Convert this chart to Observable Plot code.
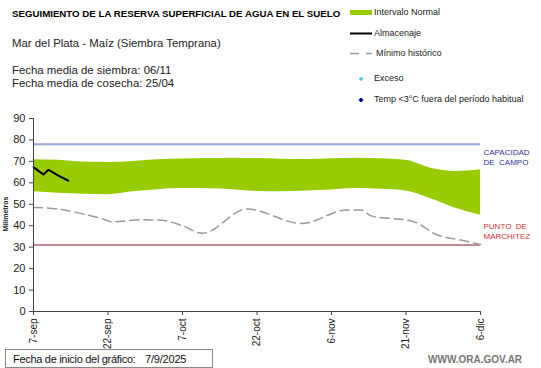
<!DOCTYPE html>
<html>
<head>
<meta charset="utf-8">
<script src="https://cdn.jsdelivr.net/npm/d3@7"></script>
<script src="https://cdn.jsdelivr.net/npm/@observablehq/plot@0.6"></script>
<style>
  html, body { margin: 0; padding: 0; background: #fff; }
  #wrap { position: relative; width: 541px; height: 368px; overflow: hidden; font-family: "Liberation Sans", Arial, sans-serif; }
  .abs { position: absolute; white-space: nowrap; line-height: 1; }
</style>
</head>
<body>
<div id="wrap"></div>
<script>
// ---- Data ----
const bandDates = ["2025-09-07","2025-09-12","2025-09-17","2025-09-22","2025-09-27","2025-10-02","2025-10-07","2025-10-12","2025-10-17","2025-10-22","2025-10-27","2025-11-01","2025-11-06","2025-11-11","2025-11-16","2025-11-21","2025-11-26","2025-12-01","2025-12-06"];
const bandHigh = [70.8, 70.5, 69.7, 69.5, 70.0, 70.8, 71.1, 71.3, 71.5, 71.3, 71.0, 70.9, 71.2, 71.5, 71.2, 70.5, 66.8, 65.3, 66.1];
const bandLow  = [55.8, 55.2, 54.7, 54.5, 55.8, 56.8, 57.3, 57.2, 56.8, 56.0, 55.8, 56.2, 56.7, 57.4, 57.0, 56.2, 52.6, 48.2, 44.9];

const almDates = ["2025-09-07","2025-09-08","2025-09-09","2025-09-10","2025-09-11","2025-09-12","2025-09-13","2025-09-14"];
const almValues = [67.3, 65.6, 63.9, 66.1, 64.8, 63.4, 62.2, 61.0];

const minDates = ["2025-09-07","2025-09-09","2025-09-21","2025-09-23","2025-09-29","2025-10-03","2025-10-07","2025-10-11","2025-10-20","2025-10-31","2025-11-09","2025-11-12","2025-11-14","2025-11-22","2025-11-23","2025-11-27","2025-12-02","2025-12-06"];
const minValues = [48.5, 48.4, 43.1, 41.8, 42.8, 42.5, 40.0, 36.5, 47.8, 41.0, 47.3, 47.3, 44.6, 42.2, 41.5, 36.0, 33.3, 31.3];

const capacidadCampo = 78;
const puntoMarchitez = 31;

const xTickDates = ["2025-09-07","2025-09-22","2025-10-07","2025-10-22","2025-11-06","2025-11-21","2025-12-06"];
const xTickLabels = ["7-sep","22-sep","7-oct","22-oct","6-nov","21-nov","6-dic"];
const yTicks = [0,10,20,30,40,50,60,70,80,90];

// ---- Build tables ----
const P = d3.utcParse("%Y-%m-%d");
const band = bandDates.map((d,i)=>({date:P(d), hi:bandHigh[i], lo:bandLow[i]}));
const alm = almDates.map((d,i)=>({date:P(d), v:almValues[i]}));
const minH = minDates.map((d,i)=>({date:P(d), v:minValues[i]}));
const ticks = xTickDates.map(P);
const labelOf = new Map(ticks.map((t,i)=>[+t, xTickLabels[i]]));
const x0 = P(xTickDates[0]), x1 = P(xTickDates[xTickDates.length-1]);

const font = "Liberation Sans, Arial, sans-serif";

const chart = Plot.plot({
  width: 541,
  height: 368,
  marginTop: 118,
  marginBottom: 57,
  marginLeft: 33,
  marginRight: 61,
  style: {fontFamily: font, background: "transparent", overflow: "visible"},
  x: {type: "utc", domain: [x0, x1]},
  y: {domain: [0, 90]},
  marks: [
    Plot.areaY(band, {x: "date", y1: "lo", y2: "hi", fill: "#99cc00", curve: "monotone-x"}),
    Plot.ruleY([capacidadCampo], {x1: x0, x2: x1, stroke: "#9aa6d6", strokeWidth: 2}),
    Plot.ruleY([puntoMarchitez], {x1: x0, x2: x1, stroke: "#c48a93", strokeWidth: 2}),
    Plot.lineY(minH, {x: "date", y: "v", stroke: "#999999", strokeWidth: 1.5, strokeDasharray: "9,5", curve: "monotone-x"}),
    Plot.lineY(alm, {x: "date", y: "v", stroke: "#000", strokeWidth: 2}),
    Plot.text([{t: "CAPACIDAD\nDE  CAMPO"}], {x: x1, y: capacidadCampo, text: "t", textAnchor: "start", lineAnchor: "top", dx: 3, dy: 3, fontSize: 8, fill: "#333399", lineHeight: 1.3}),
    Plot.text([{t: "PUNTO  DE\nMARCHITEZ"}], {x: x1, y: puntoMarchitez, text: "t", textAnchor: "start", lineAnchor: "bottom", dx: 3, dy: -6, fontSize: 8, fill: "#cc3333", lineHeight: 1.3}),
    Plot.ruleX([x0], {y1: 0, y2: 90, stroke: "#444", strokeWidth: 1}),
    Plot.ruleY([0], {x1: x0, x2: x1, stroke: "#444", strokeWidth: 1}),
    Plot.axisY({ticks: yTicks, tickSize: 4, tickPadding: 4, fontSize: 11, label: null, stroke: "#444", color: "#222"}),
    Plot.axisX({ticks: ticks, tickFormat: d => labelOf.get(+d), tickSize: 4, tickPadding: 3, tickRotate: -90, fontSize: 10, label: null, stroke: "#444", color: "#222"})
  ]
});
const wrap = document.getElementById("wrap");
chart.style.position = "absolute";
chart.style.left = "0px";
chart.style.top = "0px";
wrap.appendChild(chart);

function addText(txt, x, y, css) {
  const d = document.createElement("div");
  d.className = "abs";
  d.textContent = txt;
  d.style.left = x + "px";
  d.style.top = y + "px";
  Object.assign(d.style, css || {});
  wrap.appendChild(d);
  return d;
}
// Header texts
addText("SEGUIMIENTO DE LA RESERVA SUPERFICIAL DE AGUA EN EL SUELO", 12, 9, {fontSize: "9.7px", fontWeight: "bold", color: "#000"});
addText("Mar del Plata - Maíz (Siembra Temprana)", 12, 38, {fontSize: "11.4px", color: "#222"});
addText("Fecha media de siembra: 06/11", 12, 65, {fontSize: "11.4px", color: "#222"});
addText("Fecha media de cosecha: 25/04", 12, 78, {fontSize: "11.4px", color: "#222"});

// Legend
const legendSvg = `
<svg width="30" height="110" style="position:absolute;left:346px;top:0px">
  <rect x="4" y="10" width="22" height="5" fill="#99cc00"/>
  <line x1="4" y1="33.5" x2="26" y2="33.5" stroke="#000" stroke-width="2"/>
  <line x1="4" y1="53.5" x2="13" y2="53.5" stroke="#999" stroke-width="1.5"/>
  <line x1="20" y1="53.5" x2="26" y2="53.5" stroke="#999" stroke-width="1.5"/>
  <circle cx="15" cy="79" r="1.8" fill="#33cccc"/>
  <path d="M15 97.5 L17.5 100 L15 102.5 L12.5 100 Z" fill="#000099"/>
</svg>`;
wrap.insertAdjacentHTML("beforeend", legendSvg);
const lg = {fontSize: "9px", color: "#222"};
addText("Intervalo Normal", 374, 8, lg);
addText("Almacenaje", 374, 29, lg);
addText("Mínimo histórico", 376, 49, lg);
addText("Exceso", 374, 74, lg);
addText("Temp <3°C fuera del período habitual", 374, 95, lg);

// Y axis title
const yl = addText("Milímetros", 2, 214, {fontSize: "7px", fontWeight: "bold", color: "#222", transform: "translate(0,-50%) rotate(-90deg)", transformOrigin: "center"});
yl.style.left = "-12px";

// Footer
const box = document.createElement("div");
box.className = "abs";
Object.assign(box.style, {left: "5px", top: "349px", width: "208px", height: "19px", border: "1px solid #888", boxSizing: "border-box", background: "#fff"});
wrap.appendChild(box);
addText("Fecha de inicio del gráfico:", 13, 354, {fontSize: "11px", color: "#111", letterSpacing: "-0.3px"});
addText("7/9/2025", 145, 354, {fontSize: "11px", color: "#111", letterSpacing: "-0.2px"});
addText("WWW.ORA.GOV.AR", 428, 355, {fontSize: "10px", fontWeight: "bold", color: "#777"});
</script>
</body>
</html>
